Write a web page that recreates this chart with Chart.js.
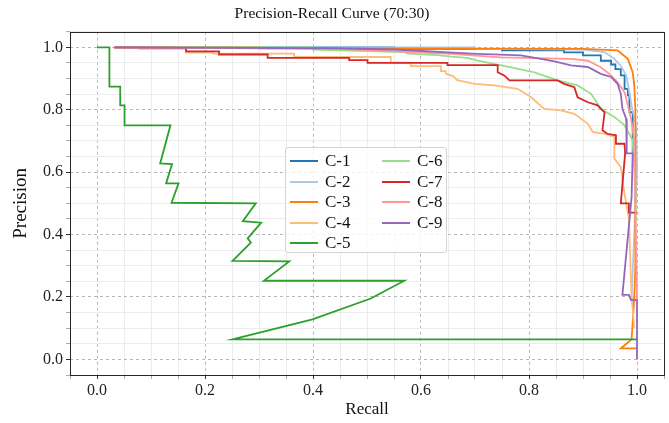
<!DOCTYPE html>
<html>
<head>
<meta charset="utf-8">
<title>Precision-Recall Curve (70:30)</title>
<script src="https://cdn.jsdelivr.net/npm/chart.js@4.4.1/dist/chart.umd.min.js"></script>
<style>
  body { margin: 0; background: #fff; }
  #wrap { position: relative; width: 669px; height: 423px; }
  #legend {
    position: absolute; left: 285px; top: 147px; width: 162px; height: 106px;
    box-sizing: border-box; background: rgba(255, 255, 255, 0.8);
    border: 1px solid #d4d4d4; border-radius: 3px;
    font: 17px 'Liberation Serif', 'Times New Roman', serif; color: #111;
  }
  .item { position: absolute; height: 20px; display: flex; align-items: center; white-space: nowrap; }
  .item .swatch { display: inline-block; width: 28px; height: 2px; margin-right: 7px; }
</style>
</head>
<body>
<div id="wrap">
  <canvas id="prChart" width="669" height="423"></canvas>
  <div id="legend"></div>
</div>
<script>
// class names and colours (tab20 style)
const classNames = ['C-1', 'C-2', 'C-3', 'C-4', 'C-5', 'C-6', 'C-7', 'C-8', 'C-9'];
const classColors = ['#1f77b4', '#aec7e8', '#ff7f0e', '#ffbb78', '#2ca02c', '#98df8a', '#d62728', '#ff9896', '#9467bd'];
const majorTicks = [0, 0.2, 0.4, 0.6, 0.8, 1.0];

// [recall, precision] points
const c1 = [[0.032, 1.0], [0.55, 1.0], [0.55, 0.995], [0.75, 0.995], [0.75, 0.99], [0.865, 0.99], [0.865, 0.984],
  [0.90, 0.984], [0.90, 0.974], [0.933, 0.974], [0.933, 0.957], [0.952, 0.957], [0.952, 0.945], [0.96, 0.945],
  [0.96, 0.93], [0.97, 0.93], [0.97, 0.91], [0.977, 0.91], [0.977, 0.867], [0.983, 0.867], [0.983, 0.846],
  [0.986, 0.846], [0.986, 0.792], [0.992, 0.792], [0.992, 0.66], [0.997, 0.66], [0.997, 0.5]];
const c2 = [[0.032, 1.0], [0.7, 1.0], [0.7, 0.995], [0.9, 0.993], [0.94, 0.985], [0.958, 0.963], [0.97, 0.941],
  [0.98, 0.91], [0.986, 0.856], [0.991, 0.803], [0.998, 0.755], [1.0, 0.606], [0.99, 0.2], [1.0, 0.19]];
const c3 = [[0.032, 1.0], [0.3, 1.0], [0.3, 0.997], [0.9, 0.995], [0.964, 0.99], [0.983, 0.963], [0.992, 0.92],
  [0.995, 0.878], [0.997, 0.8], [0.997, 0.3], [0.995, 0.2], [0.99, 0.064], [0.97, 0.035], [1.0, 0.035]];
const c4 = [[0.032, 1.0], [0.078, 1.0], [0.078, 0.995], [0.165, 0.995], [0.165, 0.983], [0.215, 0.983],
  [0.215, 0.98], [0.365, 0.98], [0.365, 0.969], [0.544, 0.969], [0.544, 0.951], [0.581, 0.951], [0.581, 0.94],
  [0.637, 0.94], [0.637, 0.924], [0.646, 0.924], [0.646, 0.916], [0.66, 0.907], [0.667, 0.895], [0.699, 0.883],
  [0.736, 0.878], [0.779, 0.867], [0.804, 0.84], [0.828, 0.803], [0.859, 0.798], [0.884, 0.787], [0.909, 0.755],
  [0.918, 0.729], [0.94, 0.723], [0.958, 0.713], [0.958, 0.643], [0.97, 0.617], [0.975, 0.55], [0.985, 0.45],
  [0.99, 0.2], [0.995, 0.1]];
const c5 = [[0.0, 1.0], [0.023, 1.0], [0.023, 0.874], [0.043, 0.874], [0.043, 0.814], [0.051, 0.814], [0.051, 0.75],
  [0.136, 0.75], [0.117, 0.628], [0.139, 0.626], [0.128, 0.564], [0.151, 0.564], [0.138, 0.502], [0.294, 0.5],
  [0.27, 0.443], [0.304, 0.438], [0.279, 0.388], [0.285, 0.374], [0.251, 0.316], [0.356, 0.314], [0.309, 0.252],
  [0.569, 0.252], [0.507, 0.195], [0.399, 0.128], [0.251, 0.064], [1.0, 0.064]];
const c6 = [[0.032, 1.0], [0.4, 1.0], [0.4, 0.993], [0.569, 0.985], [0.575, 0.98], [0.631, 0.975], [0.656, 0.97],
  [0.686, 0.966], [0.705, 0.957], [0.767, 0.936], [0.81, 0.92], [0.853, 0.894], [0.89, 0.878], [0.915, 0.851],
  [0.933, 0.803], [0.958, 0.777], [0.977, 0.75], [0.992, 0.702], [0.995, 0.606], [0.998, 0.45]];
const c7 = [[0.032, 1.0], [0.165, 0.998], [0.165, 0.987], [0.226, 0.987], [0.226, 0.977], [0.316, 0.977],
  [0.316, 0.966], [0.467, 0.966], [0.467, 0.959], [0.501, 0.959], [0.501, 0.95], [0.649, 0.95], [0.649, 0.943],
  [0.742, 0.943], [0.742, 0.92], [0.754, 0.91], [0.764, 0.894], [0.853, 0.894], [0.865, 0.883], [0.884, 0.872],
  [0.89, 0.84], [0.909, 0.824], [0.927, 0.814], [0.94, 0.792], [0.936, 0.734], [0.945, 0.723], [0.961, 0.718],
  [0.961, 0.691], [0.977, 0.691], [0.978, 0.66], [0.97, 0.5], [0.985, 0.5], [0.985, 0.47], [1.0, 0.47]];
const c8 = [[0.032, 1.0], [0.45, 0.995], [0.656, 0.979], [0.748, 0.968], [0.878, 0.963], [0.909, 0.957],
  [0.933, 0.936], [0.952, 0.91], [0.964, 0.888], [0.977, 0.856], [0.983, 0.814], [0.989, 0.771], [0.995, 0.7],
  [0.998, 0.4], [1.0, 0.19]];
const c9 = [[0.032, 1.0], [0.44, 0.997], [0.55, 0.993], [0.693, 0.98], [0.785, 0.974], [0.822, 0.963],
  [0.847, 0.955], [0.878, 0.942], [0.909, 0.937], [0.933, 0.915], [0.952, 0.905], [0.964, 0.883], [0.97, 0.851],
  [0.973, 0.803], [0.98, 0.771], [0.981, 0.66], [0.992, 0.66], [0.99, 0.52], [0.973, 0.207], [0.985, 0.207],
  [0.989, 0.19], [1.0, 0.19], [1.0, 0.0]];
const curves = [c1, c2, c3, c4, c5, c6, c7, c8, c9];

const serif = "'Liberation Serif', 'Times New Roman', serif";

function isMajor(v) {
  return majorTicks.some(t => Math.abs(t - v) < 1e-6);
}

const frame = {
  id: 'frame',
  afterDraw(chart) {
    const { ctx, chartArea: a } = chart;
    ctx.save();
    ctx.strokeStyle = '#262626';
    ctx.lineWidth = 1;
    ctx.strokeRect(Math.round(a.left) + 0.5, Math.round(a.top) + 0.5,
      Math.round(a.right - a.left), Math.round(a.bottom - a.top));
    ctx.restore();
  }
};

function axisOptions(label, isX) {
  return {
    type: 'linear',
    min: -0.05,
    max: 1.05,
    afterFit(s) {
      if (isX) s.height = 48; else s.width = 70;
    },
    ticks: {
      stepSize: 0.05,
      autoSkip: false,
      maxRotation: 0,
      padding: isX ? 2 : 3,
      color: '#222',
      font: { family: serif, size: 16 },
      callback: v => isMajor(v) ? Number(v).toFixed(1) : ''
    },
    grid: {
      color: c => (c.tick && isMajor(c.tick.value)) ? '#b8b8b8' : '#ececec',
      lineWidth: 1,
      tickLength: 4,
      tickColor: c => (c.tick && isMajor(c.tick.value)) ? '#333' : '#aaa'
    },
    border: {
      display: false,
      dash: c => (c.tick && isMajor(c.tick.value)) ? [3, 3] : []
    },
    title: {
      display: true,
      text: label,
      color: '#111',
      font: { family: serif, size: isX ? 17 : 19 },
      padding: isX ? { top: 0, bottom: 3 } : { top: 10, bottom: 0 }
    }
  };
}

const ctx = document.getElementById('prChart').getContext('2d');
new Chart(ctx, {
  type: 'scatter',
  data: {
    datasets: curves.map((pts, i) => ({
      label: classNames[i],
      data: pts.map(p => ({ x: p[0], y: p[1] })),
      showLine: true,
      borderColor: classColors[i],
      backgroundColor: classColors[i],
      borderWidth: 1.8,
      pointRadius: 0,
      tension: 0,
      order: curves.length - i
    }))
  },
  options: {
    responsive: false,
    animation: false,
    layout: { padding: { left: 0, right: 5, top: 0, bottom: 0 } },
    plugins: {
      legend: { display: false },
      tooltip: { enabled: false },
      title: {
        display: true,
        text: 'Precision-Recall Curve (70:30)',
        color: '#111',
        font: { family: serif, size: 15.6, weight: 'normal' },
        padding: { top: 5, bottom: 8 }
      }
    },
    scales: {
      x: axisOptions('Recall', true),
      y: axisOptions('Precision', false)
    }
  },
  plugins: [frame]
});

// legend box inside the plot, two columns
const legend = document.getElementById('legend');
classNames.forEach((name, i) => {
  const col = i < 5 ? 0 : 1;
  const row = i < 5 ? i : i - 5;
  const item = document.createElement('div');
  item.className = 'item';
  item.style.left = (col ? 96 : 4) + 'px';
  item.style.top = (3 + row * 20.6) + 'px';
  const sw = document.createElement('span');
  sw.className = 'swatch';
  sw.style.background = classColors[i];
  item.appendChild(sw);
  item.appendChild(document.createTextNode(name));
  legend.appendChild(item);
});
</script>
</body>
</html>
